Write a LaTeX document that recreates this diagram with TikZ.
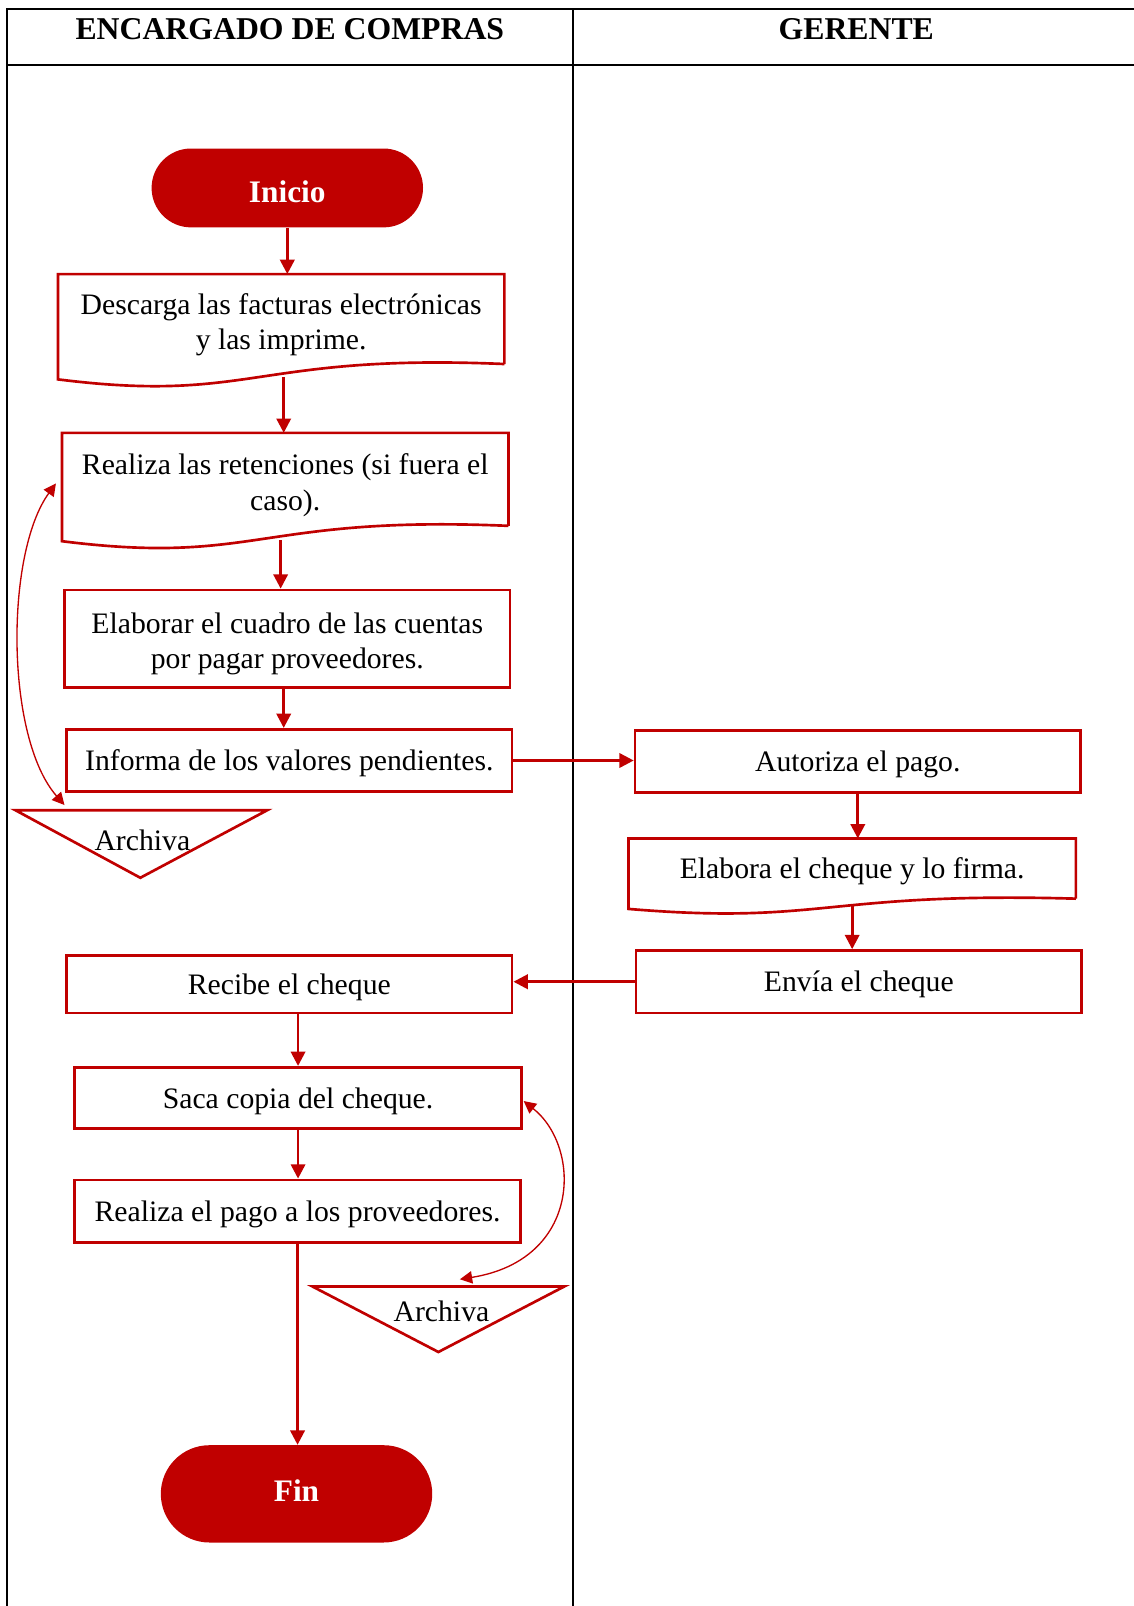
\documentclass[tikz,border=0pt]{standalone}
\usepackage{fontspec}
\setmainfont{Liberation Serif}
\usetikzlibrary{arrows.meta,calc}
\definecolor{rojo}{HTML}{C00000}
\newcommand{\docwave}[2]{%
  \draw[docline] (#1.south east) -- (#1.north east) -- (#1.north west) -- ($(#1.south west)+(0,#2)$)
    .. controls ($(#1.south west)!0.4375!(#1.south east)+(0,2.6*#2)$) and ($(#1.south west)!0.4375!(#1.south east)+(0,-0.7*#2)$) .. (#1.south east);}
\newcommand{\tstrut}[1]{\rule{0pt}{#1em}}
\begin{document}
\begin{tikzpicture}[x=0.5pt,y=-0.5pt,
  lane/.style={draw=black,line width=1pt},
  body/.style={font=\fontsize{14.5}{17.5}\selectfont,text=black},
  one/.style={execute at begin node=\tstrut{0.89}},
  proc/.style={body,draw=rojo,line width=1.3pt,rectangle,inner sep=0pt,align=center},
  docn/.style={body,rectangle,inner sep=0pt,align=center},
  docline/.style={draw=rojo,line width=1.3pt,line join=miter},
  term/.style={fill=rojo,text=white,inner sep=0pt,font=\bfseries\fontsize{15.3}{18}\selectfont},
  arr/.style={draw=rojo,line width=1.3pt,-{Triangle[length=7pt,width=7pt]}},
  carr/.style={draw=rojo,line width=0.65pt,{Triangle[length=6pt,width=6pt]}-{Triangle[length=6pt,width=6pt]}},
  hdr/.style={font=\bfseries\fontsize{15.5}{18}\selectfont,text=black}]
\useasboundingbox (0,0) rectangle (1107,1568);
% swimlanes
\draw[lane] (7,1568) -- (7,9) -- (1107,9);
\draw[lane] (7,63) -- (1107,63);
\draw[lane] (559,9) -- (559,1568);
\node[hdr] (h1) at (283,28) {ENCARGADO DE COMPRAS};
\node[hdr] (h2) at (836,28) {GERENTE};
% nodes
\node[term,minimum width=132.5pt,minimum height=38.5pt,rounded corners=19.25pt] (inicio) at (280.5,183.5) {\tstrut{0.95}Inicio};
\node[docn,minimum width=217.5pt,minimum height=43.5pt] (d1) at (274.5,311.5) {\tstrut{1.09}Descarga las facturas electrónicas\\y las imprime.};
\docwave{d1}{15}
\node[docn,minimum width=217.5pt,minimum height=45pt] (d2) at (278.5,468) {\tstrut{1.09}Realiza las retenciones (si fuera el\\caso).};
\docwave{d2}{15}
\node[proc,minimum width=217.5pt,minimum height=47.5pt] (b3) at (280.5,623.5) {\tstrut{1.05}Elaborar el cuadro de las cuentas\\por pagar proveedores.};
\node[proc,one,minimum width=217.5pt,minimum height=30.5pt] (b4) at (282.5,742.5) {Informa de los valores pendientes.};
\draw[docline] (15,791) -- (261,791) -- (137,857) -- cycle;
\node[body] (a1) at (139,820) {Archiva};
\coordinate (a1top) at (63,786);
\node[proc,one,minimum width=217.5pt,minimum height=30.5pt] (aut) at (837.5,743.5) {Autoriza el pago.};
\node[docn,one,minimum width=218pt,minimum height=29pt] (el) at (832,848) {Elabora el cheque y lo firma.};
\docwave{el}{10}
\node[proc,one,minimum width=217.5pt,minimum height=30.5pt] (env) at (838.5,958.5) {Envía el cheque};
\node[proc,one,minimum width=217.5pt,minimum height=28pt] (rec) at (282.5,961) {Recibe el cheque};
\node[proc,one,minimum width=218pt,minimum height=30pt] (saca) at (291,1072) {Saca copia del cheque.};
\node[proc,one,minimum width=217.5pt,minimum height=30.5pt] (pago) at (290.5,1182.5) {Realiza el pago a los proveedores.};
\draw[docline] (305,1256) -- (551,1256) -- (428,1320) -- cycle;
\node[body] (a2) at (431,1280) {Archiva};
\coordinate (a2top) at (449,1249);
\node[term,minimum width=132.5pt,minimum height=47.5pt,rounded corners=23.75pt] (fin) at (289.5,1458.5) {\rule[-0.2em]{0pt}{0pt}Fin};
% connector end points
\coordinate (p1) at ($(d1.south)+(2.5,13)$);
\coordinate (p2) at ($(d2.south)+(-4.5,14)$);
\coordinate (p3) at ($(b3.south)+(-3.5,0)$);
\coordinate (p4) at ($(el.south)+(0,7)$);
% connectors
\draw[arr] (inicio.south) -- (inicio.south |- d1.north);
\draw[arr] (p1) -- (p1 |- d2.north);
\draw[arr] (p2) -- (p2 |- b3.north);
\draw[arr] (p3) -- (p3 |- b4.north);
\draw[arr] (b4.east) -- (b4.east -| aut.west);
\draw[arr] (aut.south) -- (aut.south |- el.north);
\draw[arr] (p4) -- (p4 |- env.north);
\draw[arr] (env.west) -- (env.west -| rec.east);
\draw[arr] (rec.south -| saca.north) -- (saca.north);
\draw[arr] (saca.south) -- (saca.south |- pago.north);
\draw[arr] (pago.south) -- (pago.south |- fin.north);
\draw[carr] (a1top) .. controls (5,720) and (5,540) .. ($(d2.west)+(-6,4)$);
\draw[carr] (a2top) .. controls (568,1230) and (568,1120) .. ($(saca.east)+(1,3)$);
\end{tikzpicture}
\end{document}
